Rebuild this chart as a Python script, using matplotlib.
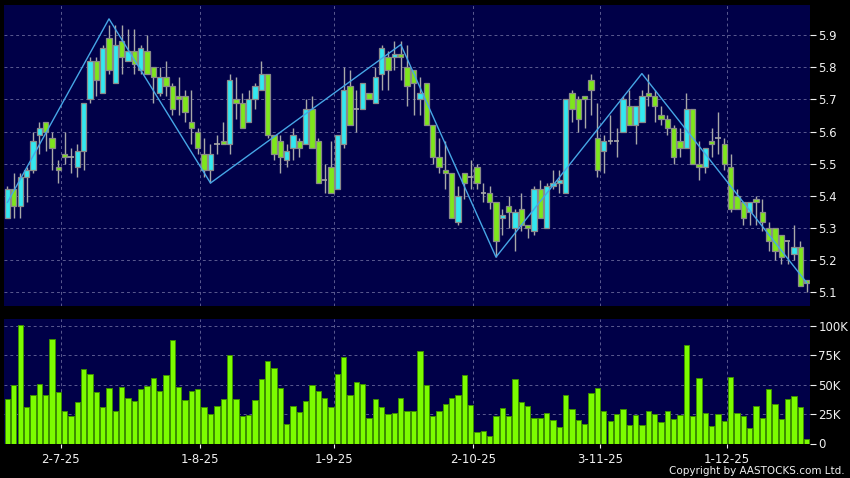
import matplotlib
matplotlib.use("Agg")
import matplotlib.pyplot as plt
from matplotlib.patches import Rectangle

# ---- data ----
opens = [5.33,5.42,5.37,5.46,5.48,5.59,5.63,5.58,5.49,5.53,5.52,5.49,5.54,5.70,5.82,5.72,5.89,5.75,5.88,5.82,
         5.85,5.79,5.85,5.80,5.72,5.77,5.74,5.71,5.71,5.63,5.60,5.53,5.48,5.56,5.57,5.56,5.70,5.69,5.63,5.70,
         5.73,5.78,5.59,5.57,5.51,5.55,5.57,5.56,5.67,5.57,5.45,5.49,5.42,5.56,5.74,5.67,5.67,5.72,5.69,5.78,
         5.83,5.83,5.84,5.80,5.79,5.70,5.75,5.62,5.52,5.48,5.47,5.32,5.47,5.46,5.49,5.41,5.41,5.38,5.33,5.37,
         5.30,5.36,5.31,5.29,5.42,5.30,5.43,5.44,5.41,5.72,5.70,5.71,5.76,5.58,5.54,5.57,5.57,5.60,5.68,5.62,
         5.63,5.72,5.71,5.65,5.64,5.61,5.57,5.55,5.67,5.50,5.49,5.57,5.58,5.56,5.49,5.40,5.38,5.35,5.39,5.35,
         5.30,5.30,5.28,5.26,5.22,5.24,5.14]
highs = [5.43,5.47,5.47,5.49,5.60,5.63,5.63,5.60,5.51,5.60,5.55,5.56,5.69,5.83,5.83,5.87,5.93,5.93,5.93,5.92,
         5.92,5.87,5.90,5.80,5.80,5.82,5.75,5.77,5.73,5.73,5.61,5.58,5.56,5.59,5.63,5.78,5.77,5.72,5.73,5.75,
         5.82,5.78,5.59,5.59,5.56,5.61,5.58,5.70,5.71,5.58,5.50,5.57,5.59,5.80,5.79,5.73,5.75,5.72,5.80,5.87,
         5.85,5.88,5.88,5.87,5.79,5.77,5.75,5.62,5.58,5.57,5.47,5.43,5.47,5.51,5.50,5.44,5.43,5.38,5.36,5.40,
         5.36,5.41,5.31,5.43,5.45,5.44,5.48,5.48,5.70,5.73,5.71,5.71,5.78,5.69,5.59,5.65,5.61,5.71,5.73,5.68,
         5.73,5.78,5.73,5.68,5.65,5.62,5.61,5.72,5.67,5.57,5.55,5.61,5.66,5.58,5.53,5.42,5.38,5.38,5.40,5.39,
         5.32,5.30,5.28,5.26,5.31,5.26,5.14]
lows = [5.33,5.33,5.33,5.38,5.47,5.53,5.54,5.48,5.44,5.50,5.47,5.46,5.48,5.69,5.71,5.72,5.78,5.75,5.78,5.82,
        5.78,5.78,5.78,5.69,5.71,5.71,5.65,5.65,5.63,5.56,5.53,5.46,5.44,5.53,5.56,5.53,5.64,5.61,5.63,5.67,
        5.73,5.58,5.51,5.47,5.49,5.51,5.52,5.56,5.55,5.44,5.41,5.41,5.42,5.55,5.62,5.60,5.67,5.70,5.69,5.73,
        5.73,5.79,5.76,5.68,5.65,5.65,5.62,5.50,5.47,5.42,5.33,5.31,5.39,5.42,5.42,5.38,5.36,5.21,5.28,5.30,
        5.23,5.29,5.27,5.28,5.33,5.30,5.42,5.41,5.41,5.63,5.60,5.61,5.65,5.46,5.47,5.56,5.52,5.60,5.62,5.56,
        5.63,5.68,5.63,5.62,5.59,5.50,5.52,5.55,5.50,5.45,5.47,5.52,5.53,5.48,5.35,5.36,5.31,5.31,5.31,5.29,
        5.23,5.20,5.19,5.19,5.20,5.12,5.10]
closes = [5.42,5.37,5.46,5.48,5.57,5.61,5.60,5.55,5.48,5.52,5.52,5.54,5.69,5.82,5.76,5.86,5.79,5.87,5.83,5.85,
          5.81,5.86,5.78,5.77,5.77,5.74,5.67,5.70,5.66,5.61,5.55,5.48,5.53,5.56,5.56,5.76,5.69,5.61,5.70,5.74,
          5.78,5.59,5.53,5.52,5.54,5.59,5.55,5.67,5.55,5.44,5.45,5.41,5.59,5.73,5.62,5.67,5.75,5.70,5.77,5.86,
          5.79,5.84,5.83,5.74,5.75,5.72,5.62,5.52,5.49,5.47,5.33,5.40,5.44,5.46,5.44,5.41,5.38,5.26,5.34,5.35,
          5.35,5.31,5.30,5.42,5.33,5.43,5.44,5.45,5.70,5.67,5.64,5.70,5.73,5.48,5.57,5.57,5.57,5.70,5.62,5.68,
          5.71,5.71,5.68,5.64,5.61,5.52,5.55,5.67,5.50,5.49,5.55,5.56,5.58,5.50,5.36,5.36,5.33,5.38,5.38,5.32,
          5.26,5.23,5.21,5.26,5.24,5.12,5.13]
volumes_k = [38,50,101,31,41,51,41,89,44,28,23,35,63,59,44,31,47,28,48,39,
             36,46,49,56,45,58,88,48,37,45,46,31,25,32,38,75,38,23,24,37,
             55,70,64,47,17,32,27,36,50,45,39,31,59,74,41,52,51,22,38,31,
             25,26,39,28,28,79,50,23,28,34,39,41,58,33,10,11,6,23,30,23,
             55,35,32,22,22,26,20,14,41,29,20,17,43,47,28,19,25,29,16,24,
             16,28,25,18,28,21,24,84,23,56,26,15,25,19,57,26,23,13,32,22,
             46,34,21,38,40,31,4]
zigzag_idx = [0, 16, 32, 62, 77, 100, 126]
zigzag_px = [5.38, 5.95, 5.44, 5.87, 5.21, 5.78, 5.13]
date_idx = [8, 30, 51, 73, 93, 113]
date_labels = ['2-7-25', '1-8-25', '1-9-25', '2-10-25', '3-11-25', '1-12-25']
price_ticks = [5.1, 5.2, 5.3, 5.4, 5.5, 5.6, 5.7, 5.8, 5.9]
vol_ticks = [0, 25, 50, 75, 100]
vol_labels = ['0', '25K', '50K', '75K', '100K']

# ---- style ----
BG = 'black'
PANEL = '#000048'
GRID = '#5a5a90'
UP = '#33e8f0'
DOWN = '#7ee61c'
EDGE = '#8a8a8a'
WICK = '#a8a8a8'
ZIG = '#46a6e6'
TXT = '#f0f0f0'
W = 0.84

fig = plt.figure(figsize=(8.5, 4.78), dpi=100, facecolor=BG)
ax1 = fig.add_axes([4/850, 1-306/478, 806/850, 301/478])
ax2 = fig.add_axes([4/850, 1-443.5/478, 806/850, 124.8/478])

n = len(opens)
xs = list(range(n))

for ax in (ax1, ax2):
    ax.set_facecolor(PANEL)
    for s in ax.spines.values():
        s.set_visible(False)
    ax.set_xlim(-0.55, n - 0.5)
    ax.yaxis.tick_right()
    ax.tick_params(axis='y', colors=TXT, labelcolor=TXT, length=4, width=0.8,
                   pad=2, labelsize=8.5)
    ax.set_axisbelow(True)
    for d in date_idx:
        ax.axvline(d + 0.4, color=GRID, lw=0.7, ls=(0, (3, 3)), zorder=0)

# price panel
ax1.set_ylim(5.058, 5.993)
ax1.set_yticks(price_ticks)
ax1.set_yticklabels([f'{p:.1f}' for p in price_ticks])
ax1.set_xticks([])
for p in price_ticks:
    ax1.axhline(p, color=GRID, lw=0.7, ls=(0, (3, 3)), zorder=0)

for i, o, h, l, c in zip(xs, opens, highs, lows, closes):
    ax1.vlines(i, l, h, color=WICK, lw=1.0, zorder=2)
    if abs(c - o) < 1e-9:
        ax1.hlines(o, i - W/2, i + W/2, color=WICK, lw=1.2, zorder=3)
    else:
        col = UP if c > o else DOWN
        ax1.add_patch(Rectangle((i - W/2, min(o, c)), W, abs(c - o),
                                facecolor=col, edgecolor=EDGE, lw=0.9, zorder=3))

ax1.plot(zigzag_idx, zigzag_px, color=ZIG, lw=1.0, zorder=4)

# volume panel
ax2.set_ylim(0, 106.2)
ax2.set_yticks(vol_ticks)
ax2.set_yticklabels(vol_labels)
for v in vol_ticks[1:]:
    ax2.axhline(v, color=GRID, lw=0.7, ls=(0, (3, 3)), zorder=0)
ax2.bar(xs, volumes_k, width=W, color='#7cfc00', edgecolor='#3d8f00', lw=0.7, zorder=2)
ax2.set_xticks([d + 0.4 for d in date_idx])
ax2.set_xticklabels(date_labels)
ax2.tick_params(axis='x', colors=TXT, labelcolor=TXT, length=3, width=0.8,
                pad=4, labelsize=8.5)

fig.text(845/850, 1-471/478, 'Copyright by AASTOCKS.com Ltd.', color=TXT,
         fontsize=7.5, ha='right', va='center')

fig.savefig('out.png', dpi=100, facecolor=BG)
